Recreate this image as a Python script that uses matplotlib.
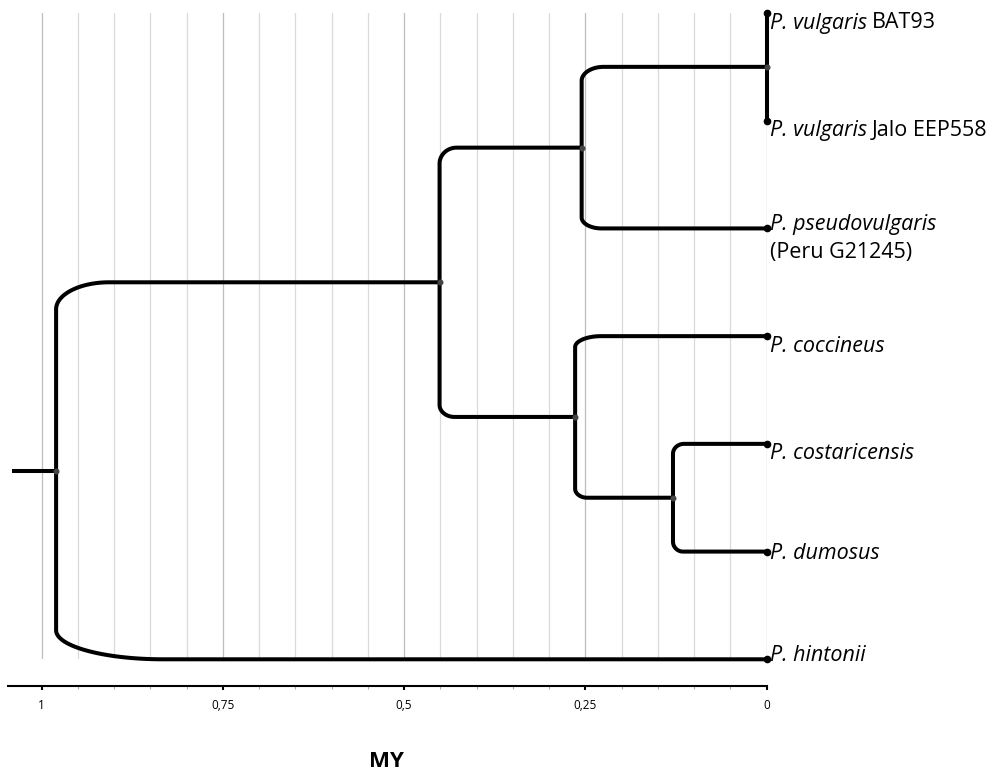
import numpy as np
import matplotlib
matplotlib.use("Agg")
import matplotlib.pyplot as plt
from matplotlib.ticker import MultipleLocator, FixedLocator, FixedFormatter

plt.rcParams['font.family'] = ['Open Sans', 'DejaVu Sans']

# ---------------- data ----------------
leaf_species = ['P. vulgaris', 'P. vulgaris', 'P. pseudovulgaris', 'P. coccineus',
                'P. costaricensis', 'P. dumosus', 'P. hintonii']
leaf_suffix = ['BAT93', 'Jalo EEP558', '', '', '', '', '']
leaf_second_line = ['', '', '(Peru G21245)', '', '', '', '']
leaf_ages = [0.0, 0.0, 0.0, 0.0, 0.0, 0.0, 0.0]

node_names = ['vulgaris', 'vulg_pseudo', 'cocc_clade', 'costa_dum', 'crown', 'root']
node_ages = [0.0, 0.255, 0.264, 0.129, 0.451, 0.980]
node_children = [[0, 1], ['vulgaris', 2], [3, 'costa_dum'], [4, 5],
                 ['vulg_pseudo', 'cocc_clade'], ['crown', 6]]
root_stem_age = 1.041

x_major_ticks = [1.0, 0.75, 0.5, 0.25, 0.0]
x_tick_labels = ['1', '0,75', '0,5', '0,25', '0']
x_minor_step = 0.05
axis_title = 'MY'

# ---------------- style ----------------
# corner sizes (px) of each branch elbow: (horizontal, vertical) for [upper child, lower child]
corner_px = {
    'vulgaris': [(0, 0), (0, 0)],
    'vulg_pseudo': [(22, 14), (20, 11)],
    'cocc_clade': [(26, 11), (12, 9)],
    'costa_dum': [(11, 10), (10, 10)],
    'crown': [(17, 16), (15, 12)],
    'root': [(53, 27), (107, 29)],
}
# label vertical alignment and offset (px, positive = up)
label_va = ['top', 'top', 'baseline', 'top', 'top', 'center', 'baseline']
label_dy_px = [0.5, 0.5, -1.3, 0.5, 0.5, -2.0, -1.4]
LABEL_FS = 15.5

W, H = 1000, 773
fig = plt.figure(figsize=(W / 100, H / 100), dpi=100)
ax_left_px, ax_right_px = 8, 766.5
ax_top_px, ax_bottom_px = 13, 659.3
ax = fig.add_axes([ax_left_px / W, 1 - ax_bottom_px / H,
                   (ax_right_px - ax_left_px) / W, (ax_bottom_px - ax_top_px) / H])
x_of_one_px = 41.6
ppx = (ax_right_px - x_of_one_px)  # px per unit of age
x_left = 1 + (x_of_one_px - ax_left_px) / ppx
ax.set_xlim(x_left, 0)
n_leaves = len(leaf_species)
ax.set_ylim(n_leaves - 1, 0)
ppy = (ax_bottom_px - ax_top_px) / (n_leaves - 1)

# ---------------- layout ----------------
node_index = {n: i for i, n in enumerate(node_names)}


def pos(ref):
    if isinstance(ref, int):
        return leaf_ages[ref], float(ref)
    i = node_index[ref]
    ys = [pos(c)[1] for c in node_children[i]]
    return node_ages[i], float(np.mean(ys))


LW = 2.9
k = 0.552


def branch(xn, yn, xc, yc, rx_px, ry_px):
    rx = min(rx_px / ppx, xn - xc)
    ry = min(ry_px / ppy, abs(yc - yn))
    s = np.sign(yc - yn)
    P0 = np.array([xn, yc - s * ry])
    Cn = np.array([xn, yc])
    P3 = np.array([xn - rx, yc])
    P1 = P0 + k * (Cn - P0)
    P2 = P3 + k * (Cn - P3)
    t = np.linspace(0, 1, 40)[:, None]
    bez = ((1 - t) ** 3) * P0 + 3 * ((1 - t) ** 2 * t) * P1 + 3 * ((1 - t) * t ** 2) * P2 + (t ** 3) * P3
    xs = np.concatenate([[xn], bez[:, 0], [xc]])
    ys = np.concatenate([[yn], bez[:, 1], [yc]])
    ax.plot(xs, ys, color='black', lw=LW, solid_capstyle='round', solid_joinstyle='round',
            clip_on=False, zorder=3)


for name in node_names:
    i = node_index[name]
    xn, yn = pos(name)
    for j, c in enumerate(node_children[i]):
        xc, yc = pos(c)
        rx_px, ry_px = corner_px[name][j]
        branch(xn, yn, xc, yc, rx_px, ry_px)
    ax.plot([xn], [yn], 'o', color='#444444', ms=3.3, clip_on=False, zorder=4)

# root stem
xr, yr = pos('root')
ax.plot([root_stem_age, xr], [yr, yr], color='black', lw=LW, solid_capstyle='butt', clip_on=False, zorder=3)

# tips and labels
for i in range(n_leaves):
    ax.plot([leaf_ages[i]], [i], 'o', color='black', ms=4.5, clip_on=False, zorder=4)
    t1 = ax.annotate(leaf_species[i], xy=(leaf_ages[i], i), xytext=(2.6, label_dy_px[i] * 0.72),
                     textcoords='offset points', ha='left', va=label_va[i], fontsize=LABEL_FS,
                     style='italic', annotation_clip=False)
    if leaf_suffix[i]:
        ax.annotate(leaf_suffix[i], xy=(1, 0), xycoords=t1, xytext=(0.2 * LABEL_FS, 0),
                    textcoords='offset points', ha='left', va='bottom', fontsize=LABEL_FS,
                    annotation_clip=False)
    if leaf_second_line[i]:
        ax.annotate(leaf_second_line[i], xy=(leaf_ages[i], i),
                    xytext=(2.6, (label_dy_px[i] - 28.5) * 0.72),
                    textcoords='offset points', ha='left', va='baseline', fontsize=LABEL_FS,
                    annotation_clip=False)

# ---------------- axes styling ----------------
ax.xaxis.set_major_locator(FixedLocator(x_major_ticks))
ax.xaxis.set_major_formatter(FixedFormatter(x_tick_labels))
ax.xaxis.set_minor_locator(MultipleLocator(x_minor_step))
ax.grid(which='minor', axis='x', color='#dadada', lw=0.9)
ax.grid(which='major', axis='x', color='#bdbdbd', lw=0.9)
ax.set_axisbelow(True)
ax.set_yticks([])
for s in ['left', 'top', 'right']:
    ax.spines[s].set_visible(False)
ax.spines['bottom'].set_position(('outward', 26.7 * 0.72))
ax.spines['bottom'].set_linewidth(1.5)
ax.tick_params(axis='x', which='major', direction='out', length=3, width=1.5,
               color='black', labelsize=8.5, pad=6.5)
ax.tick_params(axis='x', which='minor', direction='out', length=2, width=0.8, color='#aaaaaa')

fig.text(386.7 / W, 1 - 761.7 / H, axis_title, ha='center', va='center',
         fontsize=16, fontweight='bold')

fig.savefig('out.png', dpi=100, facecolor='white')
